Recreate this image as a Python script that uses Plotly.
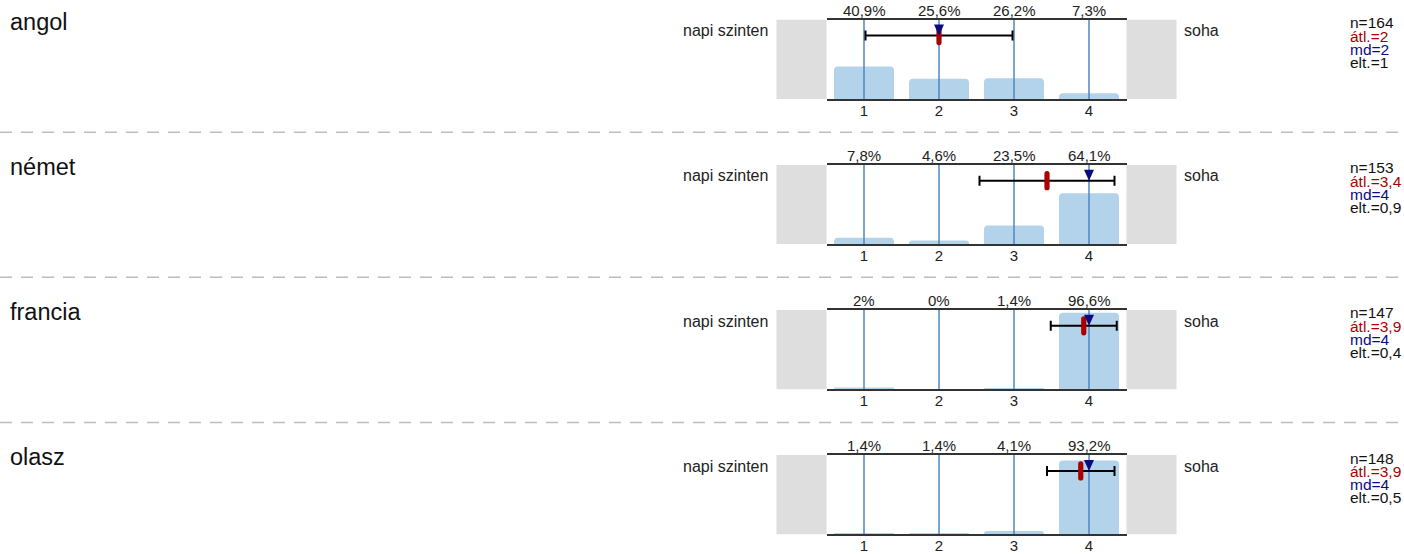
import plotly.graph_objects as go

# data
languages = ["angol", "német", "francia", "olasz"]
categories = [1, 2, 3, 4]
pct_angol = [40.9, 25.6, 26.2, 7.3]
pct_nemet = [7.8, 4.6, 23.5, 64.1]
pct_francia = [2.0, 0.0, 1.4, 96.6]
pct_olasz = [1.4, 1.4, 4.1, 93.2]
pct_labels = [
    ["40,9%", "25,6%", "26,2%", "7,3%"],
    ["7,8%", "4,6%", "23,5%", "64,1%"],
    ["2%", "0%", "1,4%", "96,6%"],
    ["1,4%", "1,4%", "4,1%", "93,2%"],
]
n_values = [164, 153, 147, 148]
means = [2.0, 3.44, 3.93, 3.89]
sds = [0.98, 0.9, 0.44, 0.45]
medians = [2, 4, 4, 4]
mean_labels = ["2", "3,4", "3,9", "3,9"]
sd_labels = ["1", "0,9", "0,4", "0,5"]
left_label = "napi szinten"
right_label = "soha"

rows = [pct_angol, pct_nemet, pct_francia, pct_olasz]

W, H = 1404, 554
FONT = "Arial, Liberation Sans, sans-serif"
BAR = "#b3d3ea"
VLINE = "#4f86c0"
RED = "#aa0000"
NAVY = "#0b0b80"
Y_MAX = 100
MARK_Y = 80  # level of error bar / markers inside each panel

fig = go.Figure()
shapes = []
annotations = []
layout = {}

for i, (lang, pct) in enumerate(zip(languages, rows)):
    k = "" if i == 0 else str(i + 1)
    xa, ya = "x" + k, "y" + k
    top = 20 + 146.7 * i
    bottom = top + 80
    layout["xaxis" + k] = dict(
        domain=[826.5 / W, 1126.5 / W], range=[0.5, 4.5], anchor=ya,
        tickvals=categories, ticktext=[str(c) for c in categories],
        ticks="", showgrid=False, zeroline=False,
        showline=True, mirror=True, linecolor="#333", linewidth=1.5,
        tickfont=dict(size=15, color="#222", family=FONT),
        ticklabelstandoff=-3,
    )
    layout["yaxis" + k] = dict(
        domain=[1 - bottom / H, 1 - top / H], range=[0, Y_MAX], anchor=xa,
        visible=False, showgrid=False, zeroline=False,
    )

    # grey end boxes
    for x0, x1 in [(-1 / 6, 0), (1, 1 + 1 / 6)]:
        shapes.append(dict(type="rect", xref=xa + " domain", yref=ya + " domain",
                           x0=x0, x1=x1, y0=0, y1=1, fillcolor="#dedede",
                           line=dict(width=0), layer="below"))

    fig.add_trace(go.Bar(x=categories, y=pct, xaxis=xa, yaxis=ya, width=0.8,
                         marker=dict(color=BAR, cornerradius=4, line=dict(width=0)),
                         hoverinfo="skip", showlegend=False))

    vx, vy = [], []
    for c in categories:
        vx += [c, c, None]
        vy += [0, Y_MAX, None]
    fig.add_trace(go.Scatter(x=vx, y=vy, xaxis=xa, yaxis=ya, mode="lines",
                             line=dict(color=VLINE, width=1.5),
                             hoverinfo="skip", showlegend=False))

    fig.add_trace(go.Scatter(x=[means[i]], y=[MARK_Y], xaxis=xa, yaxis=ya,
                             mode="markers", marker=dict(size=1, opacity=0),
                             error_x=dict(type="data", array=[sds[i]], color="black",
                                          thickness=2, width=5),
                             hoverinfo="skip", showlegend=False))

    # mean: rounded red bar, median: navy triangle (pixel glyphs anchored on data)
    shapes.append(dict(type="path", xref=xa, yref=ya, xsizemode="pixel", ysizemode="pixel",
                       xanchor=means[i], yanchor=MARK_Y,
                       path="M -2.6,-7 L -2.6,7 Q -2.6,9.6 0,9.6 Q 2.6,9.6 2.6,7 "
                            "L 2.6,-7 Q 2.6,-9.6 0,-9.6 Q -2.6,-9.6 -2.6,-7 Z",
                       fillcolor=RED, line=dict(width=0)))
    shapes.append(dict(type="path", xref=xa, yref=ya, xsizemode="pixel", ysizemode="pixel",
                       xanchor=medians[i], yanchor=MARK_Y,
                       path="M -5,11 L 5,11 L 0,0 Z",
                       fillcolor=NAVY, line=dict(width=0)))

    for c, t in zip(categories, pct_labels[i]):
        annotations.append(dict(xref=xa, yref=ya + " domain", x=c, y=1, text=t,
                                showarrow=False, yanchor="bottom", yshift=-1,
                                font=dict(size=15, color="#222", family=FONT)))

    annotations.append(dict(xref=xa + " domain", yref=ya + " domain", x=-0.19, y=0.86,
                            text=left_label, showarrow=False, xanchor="right",
                            yanchor="middle",
                            font=dict(size=16, color="#222", family=FONT)))
    annotations.append(dict(xref=xa + " domain", yref=ya + " domain", x=1.185, y=0.86,
                            text=right_label, showarrow=False, xanchor="left",
                            yanchor="middle",
                            font=dict(size=16, color="#222", family=FONT)))
    annotations.append(dict(xref="paper", yref=ya + " domain", x=8 / W, y=0.97,
                            text=lang, showarrow=False, xanchor="left", yanchor="middle",
                            font=dict(size=23.5, color="#111", family=FONT)))

    stats = [(f"n={n_values[i]}", "#111"), (f"átl.={mean_labels[i]}", RED),
             (f"md={medians[i]}", NAVY), (f"elt.={sd_labels[i]}", "#111")]
    for j, (t, col) in enumerate(stats):
        annotations.append(dict(xref="paper", yref=ya + " domain", x=1348 / W,
                                y=1 - (3 + 13.4 * j) / 80, text=t, showarrow=False,
                                xanchor="left", yanchor="middle",
                                font=dict(size=15.5, color=col, family=FONT)))

    if i > 0:
        sep = 1 - (top - 33) / H
        shapes.append(dict(type="line", xref="paper", yref="paper", x0=0, x1=1,
                           y0=sep, y1=sep, layer="below",
                           line=dict(color="#bdbdbd", width=1.5, dash="12px,9px")))

fig.update_layout(
    **layout,
    width=W, height=H,
    margin=dict(l=0, r=0, t=0, b=0),
    paper_bgcolor="white", plot_bgcolor="white",
    barmode="overlay", showlegend=False,
    shapes=shapes, annotations=annotations,
    font=dict(family=FONT),
)

fig.write_html("out.html", config={"displayModeBar": False},
               post_script="document.body.style.margin = '0';")
